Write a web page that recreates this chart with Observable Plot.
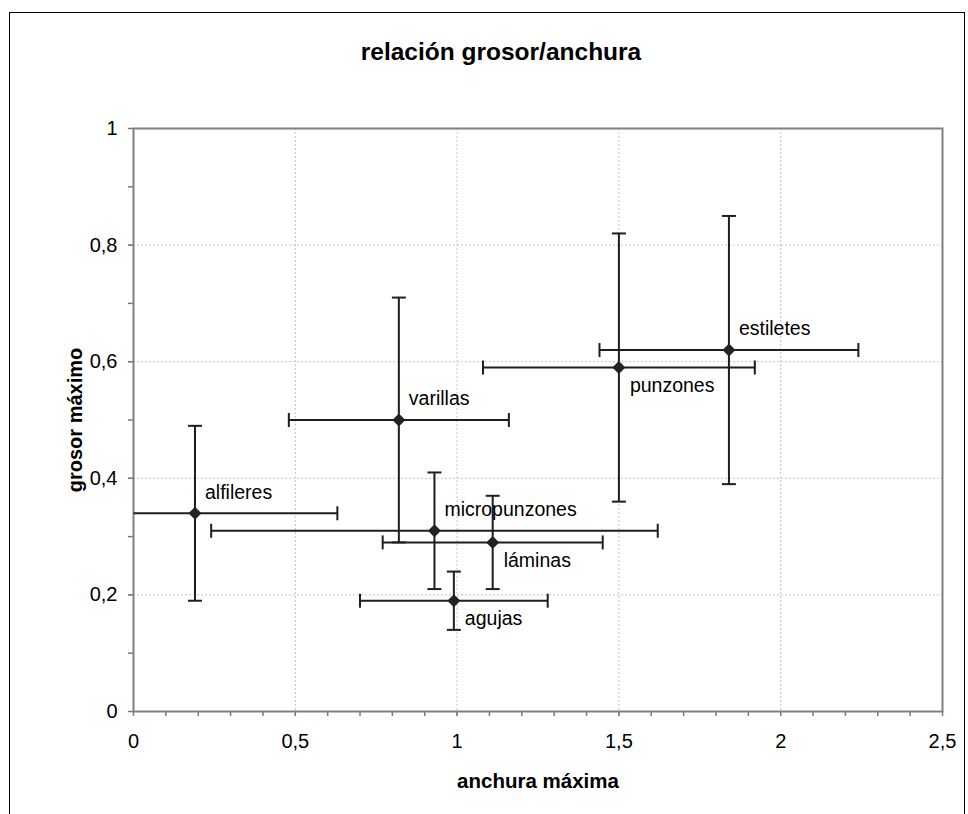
<!DOCTYPE html>
<html>
<head>
<meta charset="utf-8">
<script src="https://cdn.jsdelivr.net/npm/d3@7"></script>
<script src="https://cdn.jsdelivr.net/npm/@observablehq/plot@0.6"></script>
<style>
  html, body { margin: 0; padding: 0; background: #fff; overflow: hidden; }
  #wrap { position: relative; width: 968px; height: 814px; overflow: hidden; font-family: "Liberation Sans", Arial, sans-serif; }
  #border { position: absolute; left: 9px; top: 12px; width: 956px; height: 900px; border: 1.5px solid #000; box-sizing: border-box; }
  #title { position: absolute; left: 0; width: 1002px; top: 39px; text-align: center; font-size: 24.5px; line-height: 26px; font-weight: bold; color: #000; }
  #chart { position: absolute; left: 0; top: 0; }
</style>
</head>
<body>
<div id="wrap">
  <div id="border"></div>
  <div id="chart"></div>
  <div id="title">relación grosor/anchura</div>
</div>
<script>
// ---- data ----
const categories     = ["alfileres", "varillas", "micropunzones", "láminas", "agujas", "punzones", "estiletes"];
const anchuraMedia   = [0.19, 0.82, 0.93, 1.11, 0.99, 1.50, 1.84];
const anchuraError   = [0.44, 0.34, 0.69, 0.34, 0.29, 0.42, 0.40];
const grosorMedio    = [0.34, 0.50, 0.31, 0.29, 0.19, 0.59, 0.62];
const grosorError    = [0.15, 0.21, 0.10, 0.08, 0.05, 0.23, 0.23];
const labelPlacement = ["top", "top", "top", "bottom", "bottom", "bottom", "top"];
const xTicks = [0, 0.5, 1, 1.5, 2, 2.5];
const yTicks = [0, 0.2, 0.4, 0.6, 0.8, 1];
const xTitle = "anchura máxima";
const yTitle = "grosor máximo";

// ---- build table ----
const rows = categories.map((name, i) => ({
  name,
  x: anchuraMedia[i], xe: anchuraError[i],
  y: grosorMedio[i], ye: grosorError[i],
  place: labelPlacement[i]
}));
const xMin = 0, xMax = 2.5, yMin = 0, yMax = 1;
const minorX = d3.range(0, 26).map(i => i / 10);
const minorY = d3.range(0, 11).map(i => i / 10);
const fmt = d => String(d).replace(".", ",");

// custom symbols
const diamond = { draw(ctx) { const r = 6.5; ctx.moveTo(0, -r); ctx.lineTo(r, 0); ctx.lineTo(0, r); ctx.lineTo(-r, 0); ctx.closePath(); } };
const capV = { draw(ctx) { ctx.moveTo(0, -7); ctx.lineTo(0, 7); } };   // at ends of horizontal bars
const capH = { draw(ctx) { ctx.moveTo(-7, 0); ctx.lineTo(7, 0); } };   // at ends of vertical bars

const barColor = "#1e1e1e";
const axisGray = "#7a7a7a";

// bar ends inside the axis range
const hEnds = [];
rows.forEach(r => {
  [r.x - r.xe, r.x + r.xe].forEach(v => { if (v >= xMin && v <= xMax) hEnds.push({x: v, y: r.y}); });
});
const vEnds = [];
rows.forEach(r => {
  [r.y - r.ye, r.y + r.ye].forEach(v => { if (v >= yMin && v <= yMax) vEnds.push({x: r.x, y: v}); });
});

const plot = Plot.plot({
  width: 968,
  height: 814,
  marginLeft: 133,
  marginRight: 26,
  marginTop: 128,
  marginBottom: 103,
  style: { fontFamily: "'Liberation Sans', Arial, sans-serif", fontSize: "20px", background: "transparent", color: "#000" },
  x: { domain: [xMin, xMax] },
  y: { domain: [yMin, yMax] },
  marks: [
    Plot.gridX(xTicks.slice(1, -1), { stroke: "#c4c4c4", strokeOpacity: 1, strokeDasharray: "2,2" }),
    Plot.gridY(yTicks.slice(1, -1), { stroke: "#c4c4c4", strokeOpacity: 1, strokeDasharray: "2,2" }),
    Plot.axisX(minorX, { tickSize: 5, tickFormat: () => "", stroke: axisGray, strokeWidth: 1.5, label: null }),
    Plot.axisY(minorY, { tickSize: 5, tickFormat: () => "", stroke: axisGray, strokeWidth: 1.5, label: null }),
    Plot.axisX(xTicks, { tickSize: 5, tickPadding: 17, tickFormat: fmt, stroke: axisGray, fill: "#000", fontSize: 20, label: null }),
    Plot.axisY(yTicks, { tickSize: 5, tickPadding: 11, tickFormat: fmt, stroke: axisGray, fill: "#000", fontSize: 20, label: null }),
    Plot.frame({ stroke: "#808080", strokeWidth: 2 }),
    // error bars
    Plot.link(rows, { x1: d => Math.max(xMin, d.x - d.xe), x2: d => Math.min(xMax, d.x + d.xe), y1: "y", y2: "y", stroke: barColor, strokeWidth: 2 }),
    Plot.link(rows, { x1: "x", x2: "x", y1: d => Math.max(yMin, d.y - d.ye), y2: d => Math.min(yMax, d.y + d.ye), stroke: barColor, strokeWidth: 2 }),
    Plot.dot(hEnds, { x: "x", y: "y", symbol: capV, r: 5, fill: "none", stroke: barColor, strokeWidth: 2 }),
    Plot.dot(vEnds, { x: "x", y: "y", symbol: capH, r: 5, fill: "none", stroke: barColor, strokeWidth: 2 }),
    // markers
    Plot.dot(rows, { x: "x", y: "y", symbol: diamond, r: 5, fill: "#222", stroke: "none" }),
    // data labels
    Plot.text(rows.filter(d => d.place === "top"), { x: "x", y: "y", text: "name", textAnchor: "start", dx: 10, dy: -21, fontSize: 19.5, fill: "#000" }),
    Plot.text(rows.filter(d => d.place === "bottom"), { x: "x", y: "y", text: "name", textAnchor: "start", dx: 11, dy: 18, fontSize: 19.5, fill: "#000" }),
    // axis titles
    Plot.text([xTitle], { text: d => d, frameAnchor: "bottom", textAnchor: "middle", lineAnchor: "middle", dy: 70, fontSize: 20.5, fontWeight: "bold", fill: "#000", style: "letter-spacing:0.6px" }),
    Plot.text([yTitle], { text: d => d, frameAnchor: "left", textAnchor: "middle", lineAnchor: "middle", dx: -58, rotate: -90, fontSize: 20, fontWeight: "bold", fill: "#000" })
  ]
});
document.getElementById("chart").appendChild(plot);
</script>
</body>
</html>
